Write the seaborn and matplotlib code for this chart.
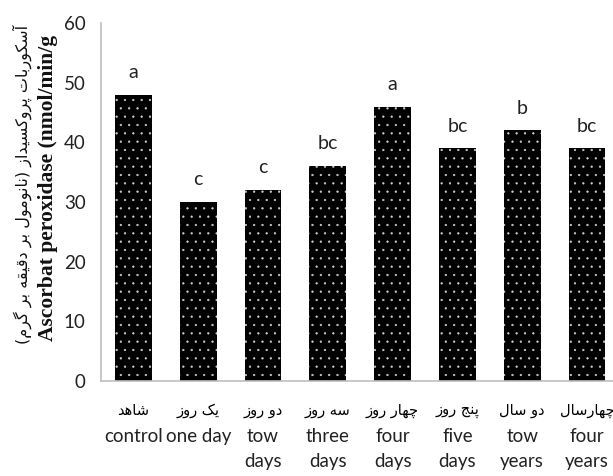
import matplotlib
matplotlib.use("Agg")
import matplotlib.pyplot as plt
import seaborn as sns

# data
groups_en = ["control", "one day", "tow\ndays", "three\ndays", "four\ndays",
             "five\ndays", "tow\nyears", "four\nyears"]
groups_fa = ["شاهد", "یک روز", "دو روز", "سه روز", "چهار روز",
             "پنج روز", "دو سال", "چهارسال"]
apx = [48, 30, 32, 36, 46, 39, 42, 39]
letters = ["a", "c", "c", "bc", "a", "bc", "b", "bc"]

ylabel_fa = "آسکوربات پروکسیداز (نانومول بر دقیقه بر گرم)"
ylabel_en = "Ascorbat peroxidase (nmol/min/g"

# small persian shaper (matplotlib has no arabic shaping)
# letter: (isolated, final, initial, medial)
FORMS = {
    "ا": ("\uFE8D", "\uFE8E", None, None),
    "آ": ("\uFE81", "\uFE82", None, None),
    "ب": ("\uFE8F", "\uFE90", "\uFE91", "\uFE92"),
    "پ": ("\uFB56", "\uFB57", "\uFB58", "\uFB59"),
    "ت": ("\uFE95", "\uFE96", "\uFE97", "\uFE98"),
    "ج": ("\uFE9D", "\uFE9E", "\uFE9F", "\uFEA0"),
    "چ": ("\uFB7A", "\uFB7B", "\uFB7C", "\uFB7D"),
    "د": ("\uFEA9", "\uFEAA", None, None),
    "ر": ("\uFEAD", "\uFEAE", None, None),
    "ز": ("\uFEAF", "\uFEB0", None, None),
    "س": ("\uFEB1", "\uFEB2", "\uFEB3", "\uFEB4"),
    "ش": ("\uFEB5", "\uFEB6", "\uFEB7", "\uFEB8"),
    "ق": ("\uFED5", "\uFED6", "\uFED7", "\uFED8"),
    "ک": ("\uFB8E", "\uFB8F", "\uFB90", "\uFB91"),
    "گ": ("\uFB92", "\uFB93", "\uFB94", "\uFB95"),
    "ل": ("\uFEDD", "\uFEDE", "\uFEDF", "\uFEE0"),
    "م": ("\uFEE1", "\uFEE2", "\uFEE3", "\uFEE4"),
    "ن": ("\uFEE5", "\uFEE6", "\uFEE7", "\uFEE8"),
    "و": ("\uFEED", "\uFEEE", None, None),
    "ه": ("\uFEE9", "\uFEEA", "\uFEEB", "\uFEEC"),
    "ی": ("\uFBFC", "\uFBFD", "\uFBFE", "\uFBFF"),
}


def fa(text):
    out = []
    for i, ch in enumerate(text):
        if ch not in FORMS:
            out.append(ch)
            continue
        prev = text[i - 1] if i > 0 else ""
        nxt = text[i + 1] if i + 1 < len(text) else ""
        join_prev = prev in FORMS and FORMS[prev][2] is not None
        join_next = nxt in FORMS and FORMS[ch][2] is not None
        iso, fin, ini, med = FORMS[ch]
        if join_prev and join_next:
            out.append(med)
        elif join_prev:
            out.append(fin)
        elif join_next:
            out.append(ini)
        else:
            out.append(iso)
    vis = "".join(reversed(out))
    return vis.translate(str.maketrans("()", ")("))


sns.set_theme(style="white")
plt.rcParams["font.family"] = ["Lato", "DejaVu Sans"]
plt.rcParams["hatch.linewidth"] = 0.4

fig = plt.figure(figsize=(6.13, 4.76), dpi=100)
ax = fig.add_axes([101 / 613, 1 - 381 / 476, 518.4 / 613, 358 / 476])

sns.barplot(x=groups_en, y=apx, color="black", width=0.566, ax=ax,
            saturation=1)
for p in ax.patches:
    p.set_facecolor("black")
    p.set_edgecolor("#d0d0d0")
    p.set_hatch("..")
    p.set_linewidth(0)

for i, (v, l) in enumerate(zip(apx, letters)):
    ax.text(i, v + 2.8, l, ha="center", va="baseline", fontsize=14,
            color="#222222")

# persian group names above the english tick labels
for i, f in enumerate(groups_fa):
    ax.text(i, -0.083, fa(f), transform=ax.get_xaxis_transform(),
            ha="center", va="center", fontsize=10.5,
            family=["DejaVu Sans"], color="#000000")

ax.set_ylim(0, 60)
ax.set_yticks(range(0, 61, 10))
ax.set_xticks(range(len(groups_en)))
ax.set_xticklabels(groups_en, linespacing=1.55)
ax.tick_params(axis="both", length=0, labelsize=13.5, colors="#222222")
ax.tick_params(axis="y", pad=11)
ax.tick_params(axis="x", pad=34)
ax.set_xlabel("")
ax.set_ylabel("")
for s in ["top", "right"]:
    ax.spines[s].set_visible(False)
for s in ["left", "bottom"]:
    ax.spines[s].set_color("#bfbfbf")
    ax.spines[s].set_linewidth(1.2)

fig.text(22 / 613, 1 - 184 / 476, fa(ylabel_fa), rotation=90, ha="center",
         va="center", fontsize=11.5, family=["DejaVu Sans"], color="#111111")
fig.text(48 / 613, 1 - 188 / 476, ylabel_en, rotation=90, ha="center",
         va="center", fontsize=15.5, fontweight="bold",
         family=["Liberation Serif"], color="#111111")

fig.savefig("out.png", dpi=100)
